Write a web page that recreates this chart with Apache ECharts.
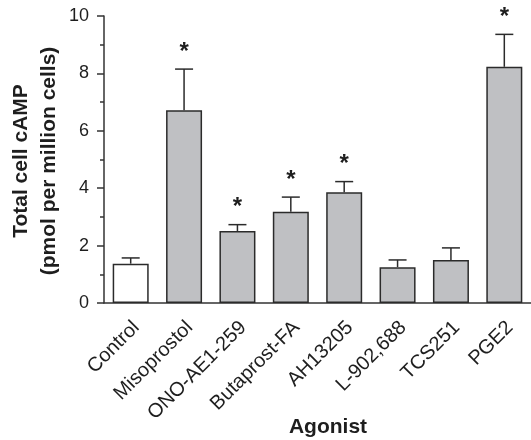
<!DOCTYPE html>
<html>
<head>
<meta charset="utf-8">
<script src="https://cdn.jsdelivr.net/npm/echarts@6/dist/echarts.min.js"></script>
<style>html,body{margin:0;padding:0;background:#fff}#c{width:531px;height:440px}</style>
</head>
<body>
<div id="c"></div>
<script>
const categories = ['Control', 'Misoprostol', 'ONO-AE1-259', 'Butaprost-FA', 'AH13205', 'L-902,688', 'TCS251', 'PGE2'];
const meanValues = [1.37, 6.72, 2.51, 3.18, 3.86, 1.25, 1.50, 8.23];
const errorUpper = [0.20, 1.43, 0.22, 0.51, 0.37, 0.25, 0.42, 1.13];
const significant = [false, true, true, true, true, false, false, true];
const yTicks = [0, 2, 4, 6, 8, 10];

const FONT = '"Liberation Sans", Arial, sans-serif';
const chart = echarts.init(document.getElementById('c'), null, {renderer: 'canvas'});

const errData = meanValues.map((v, i) => [i, v, v + errorUpper[i], significant[i] ? 1 : 0]);

chart.setOption({
  animation: false,
  backgroundColor: '#fff',
  grid: {left: 104, top: 16, width: 430, height: 287, containLabel: false},
  xAxis: {
    type: 'category',
    data: categories,
    axisLine: {lineStyle: {color: '#333', width: 1.5}},
    axisTick: {alignWithLabel: true, length: 7, lineStyle: {color: '#333', width: 1.5}},
    axisLabel: {
      rotate: 45, margin: 13, interval: 0,
      color: '#1e1e1e', fontFamily: FONT, fontSize: 20,
      align: 'right', verticalAlign: 'top', padding: [0, 2, 0, 0]
    }
  },
  yAxis: {
    type: 'value',
    min: yTicks[0], max: yTicks[yTicks.length - 1], interval: yTicks[1] - yTicks[0],
    axisLine: {show: true, lineStyle: {color: '#333', width: 1.5}},
    axisTick: {show: true, length: 7, lineStyle: {color: '#333', width: 1.5}},
    minorTick: {show: true, splitNumber: 2, length: 4, lineStyle: {color: '#333', width: 1.5}},
    splitLine: {show: false},
    axisLabel: {margin: 15, color: '#1e1e1e', fontFamily: FONT, fontSize: 18}
  },
  graphic: [
    {type: 'text', x: 21, y: 161, rotation: Math.PI / 2,
     style: {text: 'Total cell cAMP', font: 'bold 21px ' + FONT, fill: '#1e1e1e',
              textAlign: 'center', textVerticalAlign: 'middle', align: 'center', verticalAlign: 'middle'}},
    {type: 'text', x: 49, y: 161, rotation: Math.PI / 2,
     style: {text: '(pmol per million cells)', font: 'bold 21px ' + FONT, fill: '#1e1e1e',
              textAlign: 'center', textVerticalAlign: 'middle', align: 'center', verticalAlign: 'middle'}},
    {type: 'text', x: 328, y: 427,
     style: {text: 'Agonist', font: 'bold 21px ' + FONT, fill: '#1e1e1e',
              textAlign: 'center', textVerticalAlign: 'middle', align: 'center', verticalAlign: 'middle'}}
  ],
  series: [
    {
      type: 'bar',
      data: meanValues,
      barWidth: 36,
      itemStyle: {
        color: p => p.dataIndex === 0 ? '#ffffff' : '#bfc0c3',
        borderColor: '#2b2b2b', borderWidth: 1.5
      },
      z: 2
    },
    {
      type: 'custom',
      data: errData,
      z: 3,
      renderItem: (params, api) => {
        const i = api.value(0);
        const base = api.coord([i, api.value(1)]);
        const top = api.coord([i, api.value(2)]);
        const capHalf = 9;
        const children = [
          {type: 'line', shape: {x1: base[0], y1: base[1], x2: top[0], y2: top[1]},
           style: {stroke: '#2b2b2b', lineWidth: 1.5}},
          {type: 'line', shape: {x1: top[0] - capHalf, y1: top[1], x2: top[0] + capHalf, y2: top[1]},
           style: {stroke: '#2b2b2b', lineWidth: 1.5}}
        ];
        if (api.value(3)) {
          children.push({type: 'text', x: top[0], y: top[1] - 17,
            style: {text: '*', font: 'bold 24px ' + FONT, fill: '#1e1e1e',
                    textAlign: 'center', textVerticalAlign: 'middle', align: 'center', verticalAlign: 'middle'}});
        }
        return {type: 'group', children};
      }
    }
  ]
});
</script>
</body>
</html>
